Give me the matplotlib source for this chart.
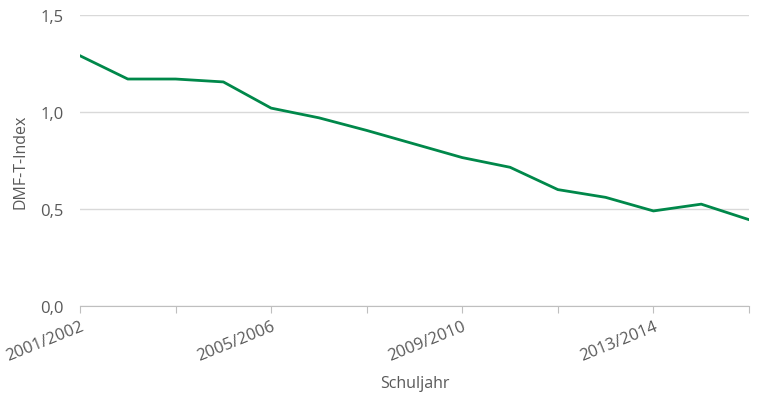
import matplotlib
matplotlib.use("Agg")
import matplotlib.pyplot as plt

years = [f"{y}/{y+1}" for y in range(2001, 2016)]
values = [1.29, 1.17, 1.17, 1.155, 1.02, 0.97, 0.905, 0.835, 0.765, 0.715, 0.60, 0.56, 0.49, 0.525, 0.445]
yticks = [0.0, 0.5, 1.0, 1.5]
ytick_labels = ["0,0", "0,5", "1,0", "1,5"]

plt.rcParams['font.family'] = ['Open Sans', 'DejaVu Sans']
fig = plt.figure(figsize=(7.79, 4.06), dpi=100)
ax = fig.add_axes([80/779, 1-307/406, 669/779, 291/406])
x = list(range(len(years)))
ax.plot(x, values, color="#00884A", lw=2)
ax.set_xlim(0, len(years)-1)
ax.set_ylim(0, 1.5)
ax.set_yticks(yticks)
ax.set_yticklabels(ytick_labels, color="#595959", fontsize=12)
ax.set_xticks(x[::2])
ax.set_xticklabels([years[i] if i % 4 == 0 else "" for i in x[::2]], rotation=22, ha="right",
                   rotation_mode="anchor", color="#595959", fontsize=12)
ax.tick_params(axis="y", length=0, pad=12)
ax.tick_params(axis="x", length=5, color="#BFBFBF", direction="out")
ax.grid(axis="y", color="#D9D9D9", lw=1)
ax.set_axisbelow(True)
for s in ["left", "right", "top"]:
    ax.spines[s].set_visible(False)
ax.spines["bottom"].set_color("#BFBFBF")
ax.set_ylabel("DMF-T-Index", color="#595959", fontsize=11.5, labelpad=8)
ax.set_xlabel("Schuljahr", color="#595959", fontsize=11.5, labelpad=8)
fig.savefig("out.png", dpi=100)
